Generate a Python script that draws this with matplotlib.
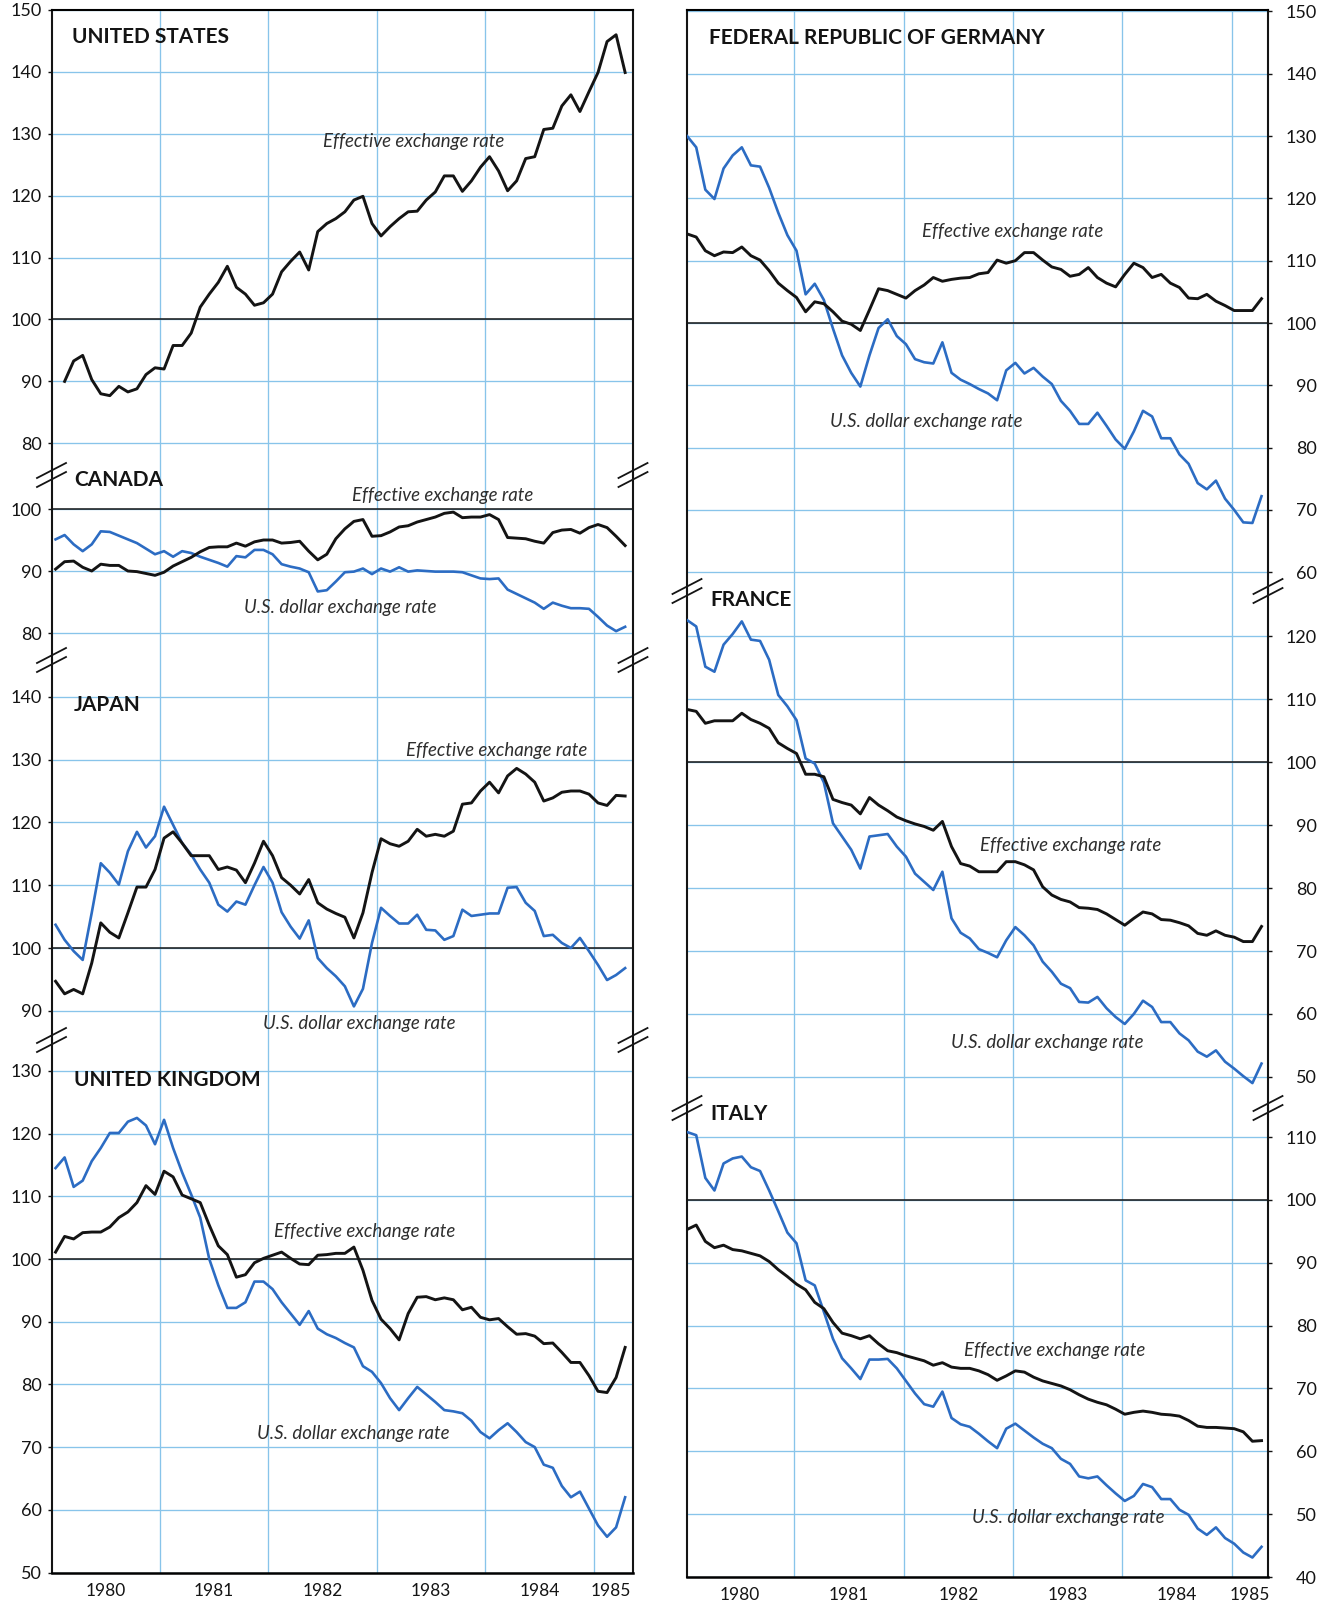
import numpy as np
import matplotlib
matplotlib.use("Agg")
import matplotlib.pyplot as plt
from matplotlib.lines import Line2D

plt.rcParams['font.family'] = ['Lato', 'DejaVu Sans']

W, H = 1332, 1601

# Monthly exchange-rate indexes (1980 = 100), January 1980 - April 1985
us_eff = [90.0, 93.3, 94.2, 90.3, 88.0, 87.7, 89.2, 88.3, 88.8, 91.1, 92.2,  # from Feb 1980
          92.0, 95.8, 95.8, 97.8, 102.0, 104.1, 106.0, 108.6, 105.2, 104.1, 102.3, 102.7,
          104.1, 107.7, 109.4, 110.9, 108.0, 114.2, 115.5, 116.3, 117.4, 119.3, 119.9, 115.5,
          113.5, 115.0, 116.3, 117.4, 117.5, 119.3, 120.6, 123.2, 123.2, 120.7, 122.4, 124.6,
          126.3, 124.0, 120.8, 122.4, 126.0, 126.3, 130.7, 130.9, 134.5, 136.3, 133.6, 136.8,
          139.9, 144.9, 146.0, 139.9]

canada_eff = [90.3, 91.5, 91.6, 90.6, 90.0, 91.1, 90.9, 90.9, 90.0, 89.9, 89.6, 89.3,
              89.8, 90.8, 91.5, 92.2, 93.1, 93.8, 93.9, 93.9, 94.5, 94.0, 94.7, 95.0,
              95.0, 94.5, 94.6, 94.8, 93.2, 91.8, 92.7, 95.2, 96.8, 98.0, 98.3, 95.6,
              95.7, 96.3, 97.1, 97.3, 97.9, 98.3, 98.7, 99.3, 99.5, 98.6, 98.7, 98.7,
              99.1, 98.3, 95.4, 95.3, 95.2, 94.8, 94.5, 96.2, 96.6, 96.7, 96.1, 97.0,
              97.5, 97.0, 95.6, 94.1]
canada_usd = [95.1, 95.8, 94.3, 93.2, 94.3, 96.4, 96.3, 95.7, 95.1, 94.5, 93.6, 92.7,
              93.2, 92.3, 93.2, 92.9, 92.3, 91.8, 91.3, 90.7, 92.4, 92.2, 93.4, 93.4,
              92.7, 91.1, 90.7, 90.4, 89.8, 86.7, 86.9, 88.3, 89.8, 89.9, 90.4, 89.5,
              90.4, 89.9, 90.6, 89.9, 90.1, 90.0, 89.9, 89.9, 89.9, 89.8, 89.3, 88.8,
              88.7, 88.8, 87.0, 86.3, 85.6, 84.9, 83.9, 84.9, 84.4, 84.0, 84.0, 83.9,
              82.6, 81.2, 80.3, 81.0]

japan_eff = [94.7, 92.7, 93.4, 92.7, 97.6, 104.0, 102.5, 101.6, 105.6, 109.7, 109.7, 112.5,
             117.5, 118.5, 116.7, 114.7, 114.7, 114.7, 112.5, 112.9, 112.4, 110.4, 113.5, 117.0,
             114.7, 111.2, 110.0, 108.6, 110.9, 107.2, 106.2, 105.5, 104.9, 101.6, 105.6, 112.0,
             117.4, 116.6, 116.2, 117.0, 118.9, 117.8, 118.1, 117.8, 118.6, 122.9, 123.1, 125.0,
             126.4, 124.7, 127.4, 128.6, 127.7, 126.4, 123.4, 123.9, 124.8, 125.0, 125.0, 124.5,
             123.1, 122.7, 124.3, 124.2]
japan_usd = [103.7, 101.3, 99.5, 98.1, 105.6, 113.5, 112.0, 110.1, 115.4, 118.5, 116.0, 117.8,
             122.5, 119.6, 116.7, 114.9, 112.5, 110.4, 106.9, 105.8, 107.4, 106.9, 110.0, 112.9,
             110.4, 105.7, 103.4, 101.5, 104.4, 98.4, 96.8, 95.5, 93.9, 90.7, 93.5, 100.8,
             106.4, 105.1, 103.9, 103.9, 105.3, 102.9, 102.8, 101.3, 101.9, 106.1, 105.1, 105.3,
             105.5, 105.5, 109.6, 109.7, 107.2, 105.9, 101.9, 102.1, 100.8, 100.0, 101.6, 99.5,
             97.3, 94.9, 95.7, 96.8]

uk_eff = [101.1, 103.6, 103.2, 104.2, 104.3, 104.3, 105.1, 106.6, 107.5, 109.0, 111.7, 110.3,
          114.0, 113.1, 110.2, 109.6, 109.0, 105.4, 102.1, 100.7, 97.1, 97.5, 99.4, 100.1,
          100.6, 101.1, 100.1, 99.2, 99.1, 100.6, 100.7, 100.9, 100.9, 101.9, 98.2, 93.4,
          90.4, 88.9, 87.1, 91.3, 93.9, 94.0, 93.5, 93.8, 93.5, 91.9, 92.3, 90.7,
          90.3, 90.5, 89.2, 88.0, 88.1, 87.7, 86.5, 86.6, 85.1, 83.5, 83.5, 81.4,
          78.9, 78.7, 81.1, 85.9]
uk_usd = [114.5, 116.2, 111.5, 112.5, 115.6, 117.7, 120.1, 120.1, 121.9, 122.5, 121.3, 118.3,
          122.2, 117.7, 113.8, 110.3, 106.6, 100.0, 95.8, 92.2, 92.2, 93.1, 96.4, 96.4,
          95.2, 93.1, 91.3, 89.5, 91.7, 88.9, 88.0, 87.4, 86.6, 85.9, 82.9, 82.0,
          80.2, 77.8, 75.9, 77.8, 79.6, 78.4, 77.2, 75.9, 75.7, 75.4, 74.2, 72.4,
          71.4, 72.7, 73.8, 72.4, 70.8, 70.0, 67.2, 66.7, 63.8, 62.0, 62.9, 60.2,
          57.5, 55.7, 57.2, 62.0]

germany_eff = [114.3, 113.8, 111.6, 110.8, 111.4, 111.3, 112.2, 110.8, 110.1, 108.4, 106.4, 105.2,
               104.1, 101.8, 103.4, 103.1, 101.8, 100.3, 99.8, 98.8, 102.1, 105.5, 105.2, 104.6,
               104.0, 105.2, 106.1, 107.3, 106.7, 107.0, 107.2, 107.3, 107.9, 108.1, 110.1, 109.6,
               110.0, 111.3, 111.3, 110.1, 109.0, 108.6, 107.5, 107.8, 108.9, 107.3, 106.4, 105.8,
               107.8, 109.6, 108.9, 107.3, 107.8, 106.4, 105.7, 104.0, 103.9, 104.6, 103.5, 102.8,
               102.0, 102.0, 102.0, 103.9]
germany_usd = [130.0, 128.2, 121.4, 119.9, 124.8, 126.9, 128.2, 125.3, 125.1, 121.7, 117.7, 114.1,
               111.6, 104.6, 106.3, 103.7, 99.1, 94.8, 92.0, 89.8, 94.8, 99.2, 100.6, 97.9,
               96.6, 94.2, 93.7, 93.5, 96.9, 92.0, 90.9, 90.2, 89.4, 88.7, 87.6, 92.4,
               93.6, 91.9, 92.8, 91.4, 90.2, 87.5, 85.9, 83.8, 83.8, 85.6, 83.5, 81.3,
               79.8, 82.6, 85.9, 85.0, 81.5, 81.5, 78.9, 77.4, 74.3, 73.3, 74.7, 71.8,
               70.0, 68.0, 67.9, 72.2]

france_eff = [108.4, 108.1, 106.2, 106.6, 106.6, 106.6, 107.8, 106.8, 106.2, 105.4, 103.1, 102.2,
              101.4, 98.1, 98.1, 97.7, 94.1, 93.6, 93.2, 91.8, 94.4, 93.2, 92.3, 91.3,
              90.7, 90.2, 89.8, 89.2, 90.6, 86.6, 83.9, 83.5, 82.6, 82.6, 82.6, 84.2,
              84.2, 83.7, 82.9, 80.2, 78.9, 78.2, 77.8, 76.9, 76.8, 76.6, 75.9, 75.0,
              74.1, 75.2, 76.2, 75.9, 75.0, 74.9, 74.5, 74.0, 72.8, 72.5, 73.2, 72.5,
              72.2, 71.5, 71.5, 73.9]
france_usd = [122.6, 121.6, 115.2, 114.4, 118.7, 120.4, 122.4, 119.5, 119.3, 116.3, 110.7, 108.9,
              106.7, 100.6, 99.8, 96.8, 90.3, 88.2, 86.1, 83.1, 88.2, 88.4, 88.6, 86.6,
              85.0, 82.3, 81.0, 79.7, 82.6, 75.2, 72.9, 72.0, 70.3, 69.7, 69.0, 71.7,
              73.8, 72.5, 70.9, 68.3, 66.7, 64.8, 64.1, 61.9, 61.8, 62.7, 60.9, 59.5,
              58.4, 60.0, 62.1, 61.1, 58.7, 58.7, 56.9, 55.8, 54.0, 53.2, 54.2, 52.4,
              51.3, 50.1, 49.0, 52.1]

italy_eff = [95.3, 96.0, 93.4, 92.4, 92.8, 92.1, 91.9, 91.5, 91.1, 90.2, 88.9, 87.8,
             86.6, 85.7, 83.7, 82.7, 80.5, 78.8, 78.4, 77.9, 78.4, 77.1, 76.0, 75.7,
             75.2, 74.8, 74.4, 73.7, 74.1, 73.4, 73.2, 73.2, 72.8, 72.2, 71.3, 72.0,
             72.8, 72.6, 71.8, 71.2, 70.8, 70.4, 69.8, 69.0, 68.3, 67.8, 67.4, 66.7,
             65.9, 66.2, 66.4, 66.2, 65.9, 65.8, 65.6, 64.9, 64.0, 63.8, 63.8, 63.7,
             63.6, 63.1, 61.6, 61.7]
italy_usd = [110.8, 110.3, 103.5, 101.5, 105.8, 106.6, 106.9, 105.2, 104.6, 101.5, 98.2, 94.8,
             93.1, 87.2, 86.4, 82.2, 77.9, 74.8, 73.2, 71.5, 74.6, 74.6, 74.7, 73.2,
             71.2, 69.2, 67.5, 67.1, 69.5, 65.3, 64.3, 63.9, 62.8, 61.6, 60.5, 63.6,
             64.4, 63.3, 62.2, 61.2, 60.5, 58.8, 58.0, 56.0, 55.7, 56.0, 54.6, 53.3,
             52.1, 52.9, 54.8, 54.3, 52.4, 52.4, 50.7, 49.9, 47.7, 46.7, 47.9, 46.2,
             45.3, 43.9, 43.1, 44.8]

year_labels = ['1980', '1981', '1982', '1983', '1984', '1985']
year_label_pos = [1980.5, 1981.5, 1982.5, 1983.5, 1984.5, 1985.16]
eff_label = 'Effective exchange rate'
usd_label = 'U.S. dollar exchange rate'

BLUE = '#2c6cc3'
GRID = '#88c4ea'
BLACK = '#141414'
TEXT = '#2e2e2e'

fig = plt.figure(figsize=(W / 100, H / 100), dpi=100)
fig.patch.set_facecolor('white')


def fx(x):
    return x / W


def fy(y):
    return 1 - y / H


def month_x(n, start, offset):
    return 1980 + (start + np.arange(n) + offset) / 12.0


def panel(col, y0, y1, ref_y, ppu, first, last):
    x0, x1, xlim, side, offset = col
    ax = fig.add_axes([fx(x0), fy(y1), (x1 - x0) / W, (y1 - y0) / H])
    top = 100 + (ref_y - y0) / ppu
    bot = 100 - (y1 - ref_y) / ppu
    ax.set_ylim(bot, top)
    ax.set_xlim(*xlim)
    ax.set_axisbelow(True)
    ax.set_facecolor('none')

    ticks = [v for v in range(0, 200, 10) if bot - 0.5 <= v <= top + 0.5]
    ax.set_yticks(ticks)
    ax.set_yticklabels([str(v) for v in ticks])
    ax.set_xticks([1981, 1982, 1983, 1984, 1985])
    ax.set_xticklabels([])
    ax.grid(True, color=GRID, lw=0.95)
    ax.axhline(100, color=BLACK, lw=1.1, zorder=2)

    for s in ('left', 'right'):
        ax.spines[s].set_linewidth(1.5)
        ax.spines[s].set_color(BLACK)
    ax.spines['top'].set_visible(first)
    ax.spines['top'].set_linewidth(1.5)
    ax.spines['bottom'].set_visible(last)
    ax.spines['bottom'].set_linewidth(1.8)

    ax.tick_params(axis='x', which='major', length=0)
    if side == 'left':
        ax.tick_params(axis='y', direction='out', length=3, width=1,
                       pad=4, labelsize=13, colors=BLACK)
    else:
        ax.yaxis.tick_right()
        ax.tick_params(axis='y', direction='out', length=3, width=1,
                       pad=32, labelsize=13, colors=BLACK)
        for lab in ax.get_yticklabels():
            lab.set_horizontalalignment('right')
    if last:
        ax.set_xticks(year_label_pos, minor=True)
        ax.set_xticklabels(year_labels, minor=True)
        ax.tick_params(axis='x', which='minor', length=0, pad=7,
                       labelsize=12.5, colors=BLACK)
    return ax


def brk(x, y):
    for off in (-4.5, 4.5):
        xs = [x - 14.5, x + 14.5]
        ys = [y + off + 7.5, y + off - 7.5]
        fig.add_artist(Line2D([fx(v) for v in xs], [fy(v) for v in ys],
                              color=BLACK, lw=1.3, transform=fig.transFigure))


def title(x, y, s):
    fig.text(fx(x), fy(y), s, fontsize=15, fontweight='bold', color=BLACK,
             ha='left', va='center')


def note(x, y, s):
    fig.text(fx(x), fy(y), s, fontsize=13.4, style='italic', color=TEXT,
             ha='center', va='center')


left_col = (51.5, 633, (1980.0, 1985.36), 'left', 0.45)
right_col = (687, 1268, (1980.02, 1985.33), 'right', 0.25)

# Left column: United States, Canada, Japan, United Kingdom
ax = panel(left_col, 10, 475, 319.5, 6.19, True, False)
ax.plot(month_x(len(us_eff), 1, left_col[4]), us_eff, color=BLACK, lw=2.1, zorder=3)

ax = panel(left_col, 475, 660, 509, 6.2, False, False)
ax.plot(month_x(64, 0, left_col[4]), canada_usd, color=BLUE, lw=1.9, zorder=3)
ax.plot(month_x(64, 0, left_col[4]), canada_eff, color=BLACK, lw=2.1, zorder=3)

ax = panel(left_col, 660, 1040, 948, 6.28, False, False)
ax.plot(month_x(64, 0, left_col[4]), japan_usd, color=BLUE, lw=1.9, zorder=3)
ax.plot(month_x(64, 0, left_col[4]), japan_eff, color=BLACK, lw=2.1, zorder=3)

ax = panel(left_col, 1040, 1573, 1259, 6.27, False, True)
ax.plot(month_x(64, 0, left_col[4]), uk_usd, color=BLUE, lw=1.9, zorder=3)
ax.plot(month_x(64, 0, left_col[4]), uk_eff, color=BLACK, lw=2.1, zorder=3)

# Right column: Germany, France, Italy
ax = panel(right_col, 10, 591, 323, 6.23, True, False)
ax.plot(month_x(64, 0, right_col[4]), germany_usd, color=BLUE, lw=1.9, zorder=3)
ax.plot(month_x(64, 0, right_col[4]), germany_eff, color=BLACK, lw=2.1, zorder=3)

ax = panel(right_col, 591, 1108, 762.3, 6.29, False, False)
ax.plot(month_x(64, 0, right_col[4]), france_usd, color=BLUE, lw=1.9, zorder=3)
ax.plot(month_x(64, 0, right_col[4]), france_eff, color=BLACK, lw=2.1, zorder=3)

ax = panel(right_col, 1108, 1577, 1200, 6.29, False, True)
ax.plot(month_x(64, 0, right_col[4]), italy_usd, color=BLUE, lw=1.9, zorder=3)
ax.plot(month_x(64, 0, right_col[4]), italy_eff, color=BLACK, lw=2.1, zorder=3)

# Axis-break marks on both frame edges
for y in (475, 660, 1040):
    brk(51.5, y)
    brk(633, y)
for y in (591, 1108):
    brk(687, y)
    brk(1268, y)

# Country titles
title(72, 37, 'UNITED STATES')
title(74, 480, 'CANADA')
title(74, 705, 'JAPAN')
title(74, 1080, 'UNITED KINGDOM')
title(709, 38, 'FEDERAL REPUBLIC OF GERMANY')
title(710, 600, 'FRANCE')
title(710, 1114, 'ITALY')

# Series labels
note(414, 141, eff_label)
note(443, 495, eff_label)
note(340, 608, usd_label)
note(497, 750, eff_label)
note(359, 1023, usd_label)
note(365, 1232, eff_label)
note(353, 1434, usd_label)
note(1013, 231, eff_label)
note(926, 421, usd_label)
note(1071, 845, eff_label)
note(1047, 1042, usd_label)
note(1055, 1350, eff_label)
note(1068, 1517, usd_label)

fig.savefig('out.png', dpi=100, facecolor='white')
